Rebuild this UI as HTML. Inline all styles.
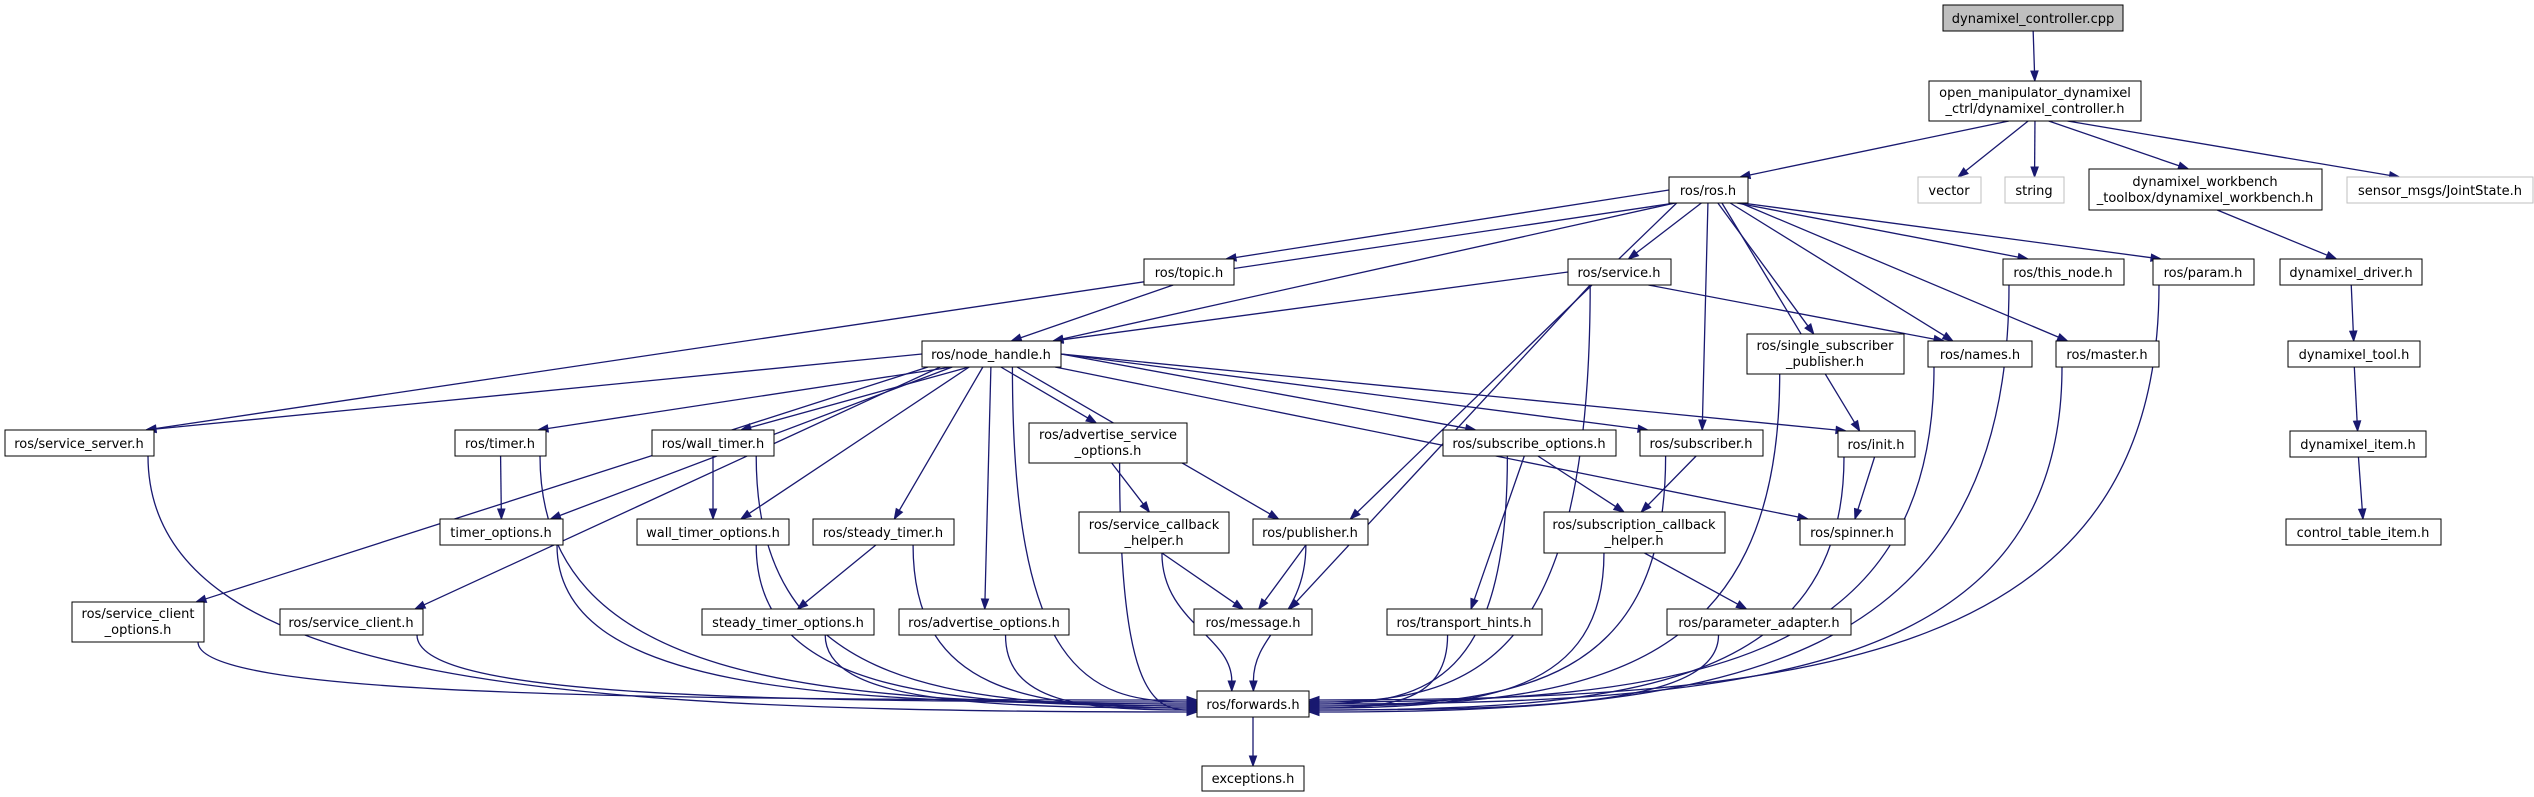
<!DOCTYPE html>
<html><head><meta charset="utf-8"><style>
html,body{margin:0;padding:0;background:#fff;}
svg{display:block}
text{font-family:"DejaVu Sans","Liberation Sans",sans-serif;font-size:13px;fill:#000}
</style></head><body>
<svg id="g" width="2534" height="797" viewBox="0 0 2534 797" xmlns="http://www.w3.org/2000/svg">
<g id="edges" fill="none" stroke="#191970" stroke-width="1.3"></g>
<g id="heads" fill="#191970" stroke="#191970"></g>
<g id="nodes">
<rect x="1943" y="5" width="180" height="26" fill="#bfbfbf" stroke="#000"/><text x="2033" y="23" text-anchor="middle">dynamixel_controller.cpp</text>
<rect x="1929" y="81" width="212" height="40" fill="#fff" stroke="#000"/><text x="2035" y="97" text-anchor="middle">open_manipulator_dynamixel</text><text x="2035" y="113" text-anchor="middle">_ctrl/dynamixel_controller.h</text>
<rect x="1669" y="177" width="79" height="26" fill="#fff" stroke="#000"/><text x="1708" y="195" text-anchor="middle">ros/ros.h</text>
<rect x="1918" y="177" width="63" height="26" fill="#fff" stroke="#bfbfbf"/><text x="1949" y="195" text-anchor="middle">vector</text>
<rect x="2005" y="177" width="59" height="26" fill="#fff" stroke="#bfbfbf"/><text x="2034" y="195" text-anchor="middle">string</text>
<rect x="2089" y="169" width="233" height="41" fill="#fff" stroke="#000"/><text x="2205" y="186" text-anchor="middle">dynamixel_workbench</text><text x="2205" y="202" text-anchor="middle">_toolbox/dynamixel_workbench.h</text>
<rect x="2347" y="177" width="186" height="26" fill="#fff" stroke="#bfbfbf"/><text x="2440" y="195" text-anchor="middle">sensor_msgs/JointState.h</text>
<rect x="1144" y="259" width="90" height="26" fill="#fff" stroke="#000"/><text x="1189" y="277" text-anchor="middle">ros/topic.h</text>
<rect x="1568" y="259" width="103" height="26" fill="#fff" stroke="#000"/><text x="1619" y="277" text-anchor="middle">ros/service.h</text>
<rect x="2003" y="259" width="121" height="26" fill="#fff" stroke="#000"/><text x="2063" y="277" text-anchor="middle">ros/this_node.h</text>
<rect x="2153" y="259" width="101" height="26" fill="#fff" stroke="#000"/><text x="2203" y="277" text-anchor="middle">ros/param.h</text>
<rect x="2280" y="259" width="142" height="26" fill="#fff" stroke="#000"/><text x="2351" y="277" text-anchor="middle">dynamixel_driver.h</text>
<rect x="922" y="341" width="139" height="26" fill="#fff" stroke="#000"/><text x="991" y="359" text-anchor="middle">ros/node_handle.h</text>
<rect x="1747" y="334" width="157" height="40" fill="#fff" stroke="#000"/><text x="1825" y="350" text-anchor="middle">ros/single_subscriber</text><text x="1825" y="366" text-anchor="middle">_publisher.h</text>
<rect x="1928" y="341" width="104" height="26" fill="#fff" stroke="#000"/><text x="1980" y="359" text-anchor="middle">ros/names.h</text>
<rect x="2056" y="341" width="103" height="26" fill="#fff" stroke="#000"/><text x="2107" y="359" text-anchor="middle">ros/master.h</text>
<rect x="2288" y="341" width="132" height="26" fill="#fff" stroke="#000"/><text x="2354" y="359" text-anchor="middle">dynamixel_tool.h</text>
<rect x="5" y="430" width="149" height="26" fill="#fff" stroke="#000"/><text x="79" y="448" text-anchor="middle">ros/service_server.h</text>
<rect x="455" y="430" width="91" height="26" fill="#fff" stroke="#000"/><text x="500" y="448" text-anchor="middle">ros/timer.h</text>
<rect x="652" y="430" width="122" height="26" fill="#fff" stroke="#000"/><text x="713" y="448" text-anchor="middle">ros/wall_timer.h</text>
<rect x="1029" y="423" width="158" height="40" fill="#fff" stroke="#000"/><text x="1108" y="439" text-anchor="middle">ros/advertise_service</text><text x="1108" y="455" text-anchor="middle">_options.h</text>
<rect x="1443" y="430" width="173" height="26" fill="#fff" stroke="#000"/><text x="1529" y="448" text-anchor="middle">ros/subscribe_options.h</text>
<rect x="1640" y="430" width="123" height="26" fill="#fff" stroke="#000"/><text x="1701" y="448" text-anchor="middle">ros/subscriber.h</text>
<rect x="1838" y="431" width="77" height="26" fill="#fff" stroke="#000"/><text x="1876" y="449" text-anchor="middle">ros/init.h</text>
<rect x="2290" y="431" width="136" height="26" fill="#fff" stroke="#000"/><text x="2358" y="449" text-anchor="middle">dynamixel_item.h</text>
<rect x="440" y="519" width="123" height="26" fill="#fff" stroke="#000"/><text x="501" y="537" text-anchor="middle">timer_options.h</text>
<rect x="637" y="519" width="152" height="26" fill="#fff" stroke="#000"/><text x="713" y="537" text-anchor="middle">wall_timer_options.h</text>
<rect x="813" y="519" width="141" height="26" fill="#fff" stroke="#000"/><text x="883" y="537" text-anchor="middle">ros/steady_timer.h</text>
<rect x="1079" y="512" width="150" height="41" fill="#fff" stroke="#000"/><text x="1154" y="529" text-anchor="middle">ros/service_callback</text><text x="1154" y="545" text-anchor="middle">_helper.h</text>
<rect x="1253" y="519" width="115" height="26" fill="#fff" stroke="#000"/><text x="1310" y="537" text-anchor="middle">ros/publisher.h</text>
<rect x="1544" y="512" width="181" height="41" fill="#fff" stroke="#000"/><text x="1634" y="529" text-anchor="middle">ros/subscription_callback</text><text x="1634" y="545" text-anchor="middle">_helper.h</text>
<rect x="1800" y="519" width="105" height="26" fill="#fff" stroke="#000"/><text x="1852" y="537" text-anchor="middle">ros/spinner.h</text>
<rect x="2286" y="519" width="155" height="26" fill="#fff" stroke="#000"/><text x="2363" y="537" text-anchor="middle">control_table_item.h</text>
<rect x="72" y="602" width="132" height="40" fill="#fff" stroke="#000"/><text x="138" y="618" text-anchor="middle">ros/service_client</text><text x="138" y="634" text-anchor="middle">_options.h</text>
<rect x="280" y="609" width="143" height="26" fill="#fff" stroke="#000"/><text x="351" y="627" text-anchor="middle">ros/service_client.h</text>
<rect x="702" y="609" width="172" height="26" fill="#fff" stroke="#000"/><text x="788" y="627" text-anchor="middle">steady_timer_options.h</text>
<rect x="899" y="609" width="170" height="26" fill="#fff" stroke="#000"/><text x="984" y="627" text-anchor="middle">ros/advertise_options.h</text>
<rect x="1194" y="609" width="118" height="26" fill="#fff" stroke="#000"/><text x="1253" y="627" text-anchor="middle">ros/message.h</text>
<rect x="1387" y="609" width="155" height="26" fill="#fff" stroke="#000"/><text x="1464" y="627" text-anchor="middle">ros/transport_hints.h</text>
<rect x="1667" y="609" width="184" height="26" fill="#fff" stroke="#000"/><text x="1759" y="627" text-anchor="middle">ros/parameter_adapter.h</text>
<rect x="1197" y="691" width="112" height="26" fill="#fff" stroke="#000"/><text x="1253" y="709" text-anchor="middle">ros/forwards.h</text>
<rect x="1202" y="766" width="102" height="25" fill="#fff" stroke="#000"/><text x="1253" y="783" text-anchor="middle">exceptions.h</text>
</g>
</svg>
<script>
var N={
cpp:[1943,5,2123,31],om:[1929,81,2141,121],ros:[1669,177,1748,203],vec:[1918,177,1981,203],str:[2005,177,2064,203],
wb:[2089,169,2322,210],sm:[2347,177,2533,203],topic:[1144,259,1234,285],svc:[1568,259,1671,285],tn:[2003,259,2124,285],
param:[2153,259,2254,285],drv:[2280,259,2422,285],nh:[922,341,1061,367],ssp:[1747,334,1904,374],names:[1928,341,2032,367],
master:[2056,341,2159,367],tool:[2288,341,2420,367],ss:[5,430,154,456],timer:[455,430,546,456],wt:[652,430,774,456],
aso:[1029,423,1187,463],subo:[1443,430,1616,456],sub:[1640,430,1763,456],init:[1838,431,1915,457],item:[2290,431,2426,457],
to:[440,519,563,545],wto:[637,519,789,545],st:[813,519,954,545],sch:[1079,512,1229,553],pub:[1253,519,1368,545],
subch:[1544,512,1725,553],spin:[1800,519,1905,545],cti:[2286,519,2441,545],sco:[72,602,204,642],sc:[280,609,423,635],
sto:[702,609,874,635],ao:[899,609,1069,635],msg:[1194,609,1312,635],th:[1387,609,1542,635],pa:[1667,609,1851,635],
fw:[1197,691,1309,717],exc:[1202,766,1304,791]};
var E=[["cpp","om"],["om","ros"],["om","vec"],["om","str"],["om","wb"],["om","sm"],["wb","drv"],["drv","tool"],["tool","item"],["item","cti"],
["ros","topic"],["ros","svc"],["ros","nh"],["ros","ss"],["ros","pub"],["ros","sub"],["ros","ssp"],["ros","names"],["ros","master"],["ros","tn"],["ros","param"],["ros","init"],
["svc","nh"],["svc","msg"],["svc","names"],["svc","fw"],["topic","nh"],
["nh","ss"],["nh","sco"],["nh","sc"],["nh","timer"],["nh","to"],["nh","wt"],["nh","wto"],["nh","st"],["nh","aso"],["nh","ao"],["nh","pub"],["nh","subo"],["nh","sub"],["nh","init"],["nh","spin"],["nh","fw"],
["timer","to"],["timer","fw"],["wt","wto"],["wt","fw"],["st","sto"],["st","fw"],["aso","sch"],["aso","fw"],["sch","msg"],["sch","fw"],["pub","msg"],["pub","fw"],
["subo","subch"],["subo","th"],["subo","fw"],["sub","subch"],["sub","fw"],["subch","pa"],["subch","fw"],["init","spin"],["init","fw"],
["tn","fw"],["param","fw"],["names","fw"],["master","fw"],["ssp","fw"],["ss","fw"],["sco","fw"],["sc","fw"],["to","fw"],["wto","fw"],["sto","fw"],["ao","fw"],["th","fw"],["pa","fw"],["fw","exc"]];
var eg=document.getElementById("edges"),hg=document.getElementById("heads"),ns="http://www.w3.org/2000/svg";
var cntIn={};
E.forEach(function(e){
 var a=N[e[0]],b=N[e[1]];
 var sx=(a[0]+a[2])/2,sy=a[3],tx=(b[0]+b[2])/2,ty=b[1],c1x,c1y,c2x,c2y;
 var dx=tx-sx;
 sx=sx+Math.max(-(a[2]-a[0])/2+6,Math.min((a[2]-a[0])/2-6,dx*0.08));
 if(e[1]=="fw"){
  if(sx<1150){tx=1197;ty=700+Math.min(12,(cntIn.l=(cntIn.l||0)+1)%7*2);c1x=sx;c1y=sy+(ty-sy)*0.9;c2x=sx+(tx-sx)*0.4;c2y=ty;}
  else if(sx>1380){tx=1309;ty=700+Math.min(12,(cntIn.r=(cntIn.r||0)+1)%7*2);c1x=sx;c1y=sy+(ty-sy)*0.9;c2x=sx+(tx-sx)*0.4;c2y=ty;}
  else {tx=1230+(sx-1150)*0.15;ty=691;c1x=sx;c1y=sy+(ty-sy)*0.5;c2x=tx;c2y=ty-(ty-sy)*0.4;}
 } else {
  tx=tx-Math.max(-(b[2]-b[0])/2+8,Math.min((b[2]-b[0])/2-8,dx*0.1));
  if(Math.abs(dx)>500 && ty-sy<120){sy=(a[1]+a[3])/2;sx=dx<0?a[0]:a[2];}
  c1x=sx+(tx-sx)/3;c1y=sy+(ty-sy)/3;c2x=sx+(tx-sx)*2/3;c2y=sy+(ty-sy)*2/3;
 }
 var p=document.createElementNS(ns,"path");
 var ang=Math.atan2(ty-c2y,tx-c2x),L=10,W=3.6;
 var bx=tx-L*Math.cos(ang),by=ty-L*Math.sin(ang);
 p.setAttribute("d","M"+sx+","+sy+" C"+c1x+","+c1y+" "+c2x+","+c2y+" "+bx+","+by);
 eg.appendChild(p);
 var h=document.createElementNS(ns,"polygon");
 var px=-Math.sin(ang)*W,py=Math.cos(ang)*W;
 h.setAttribute("points",tx+","+ty+" "+(bx+px)+","+(by+py)+" "+(bx-px)+","+(by-py));
 hg.appendChild(h);
});
</script>
</body></html>
